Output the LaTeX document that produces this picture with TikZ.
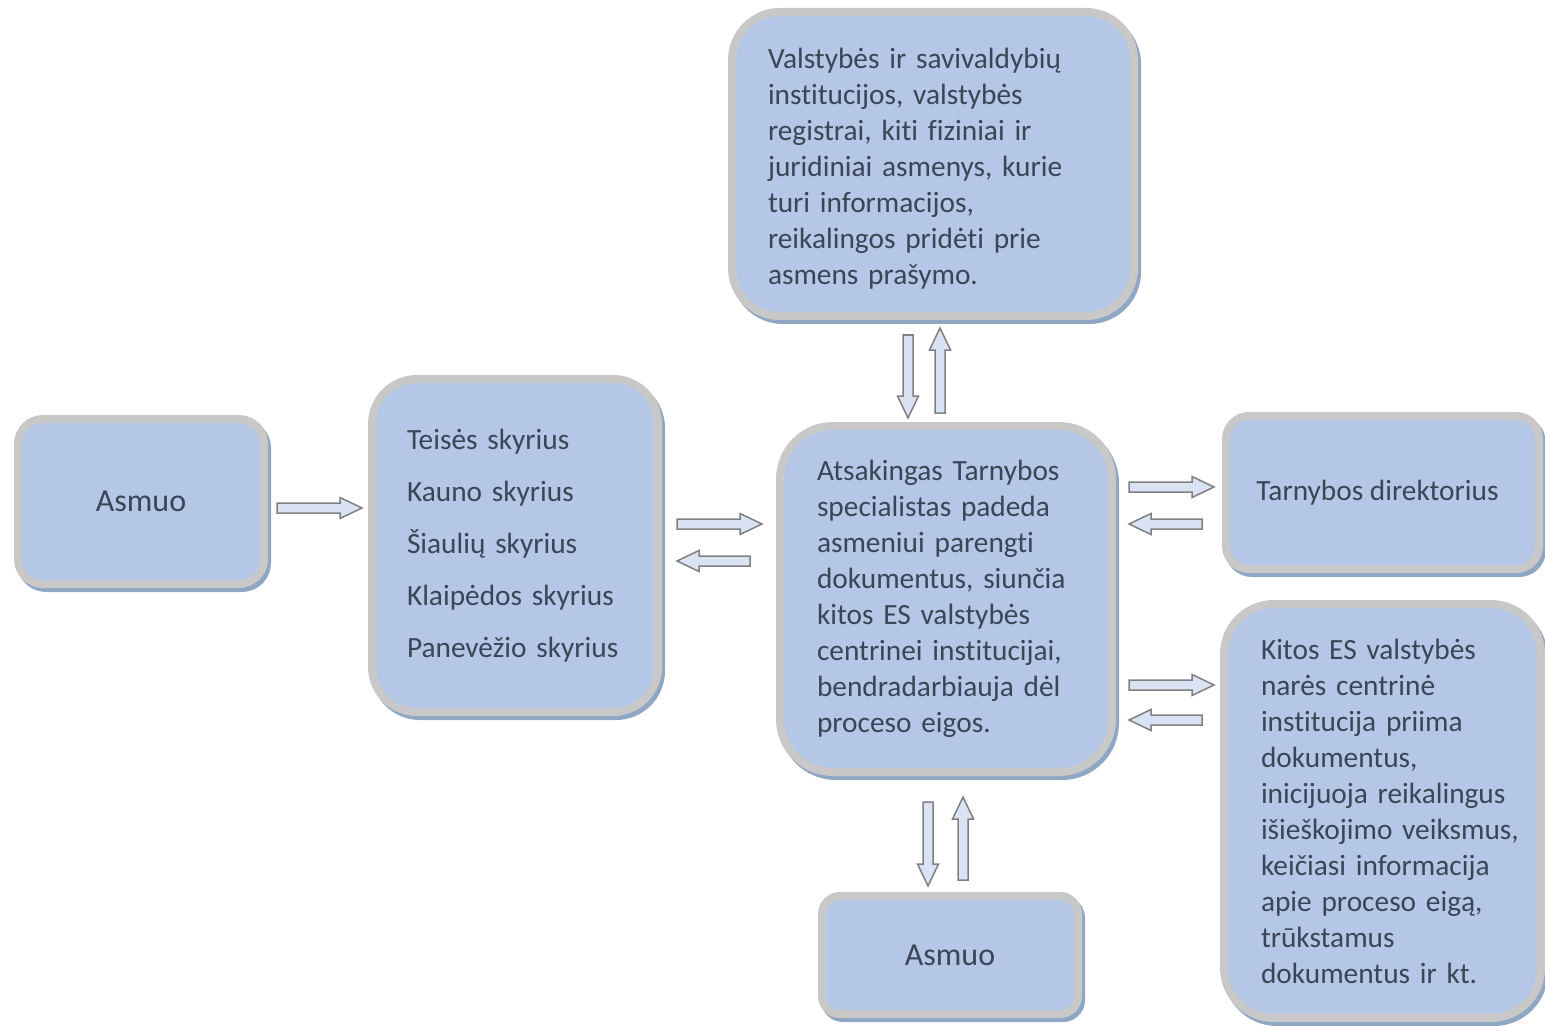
\documentclass[tikz,border=0pt]{standalone}
\usepackage{fontspec}
\setmainfont{Carlito}[Ligatures=NoCommon]
\usepackage{xcolor}
\usepackage{tikz}
\usetikzlibrary{calc}
\usetikzlibrary{positioning}

\definecolor{boxfill}{HTML}{B4C7E7}
\definecolor{boxline}{HTML}{C8C8C8}
\definecolor{boxshade}{HTML}{8FA6C4}
\definecolor{arrfill}{HTML}{DAE3F3}
\definecolor{arrline}{HTML}{808080}
\definecolor{txt}{HTML}{3A4556}

\tikzset{
	box/.style={draw=boxline,line width=4pt,fill=boxfill,rounded corners=#1,outer sep=0pt,inner sep=0pt,text=txt,
		font=\fontsize{14.67pt}{18pt}\selectfont,
		preaction={draw=boxshade,fill=boxshade,line width=4pt,transform canvas={xshift=1.5pt,yshift=-2pt}}},
	box/.default=12pt,
	bigtext/.style={font=\fontsize{16pt}{19.5pt}\selectfont},
	arrowbody/.style={draw=arrline,fill=arrfill,line width=0.75pt,line join=miter}
}

\newcommand{\blockarrow}[2]{%
	\coordinate (ba-s) at (#1);
	\coordinate (ba-e) at (#2);
	\coordinate (ba-h) at ($(ba-e)!11pt!(ba-s)$);
	\draw[arrowbody] ($(ba-s)!2.5pt!90:(ba-e)$) -- ($(ba-h)!2.5pt!-90:(ba-s)$) -- ($(ba-h)!5.25pt!-90:(ba-s)$) -- (ba-e)
		-- ($(ba-h)!5.25pt!90:(ba-s)$) -- ($(ba-h)!2.5pt!90:(ba-s)$) -- ($(ba-s)!2.5pt!-90:(ba-e)$) -- cycle;
}

\begin{document}
\begin{tikzpicture}[x=0.5pt,y=-0.5pt]
	\useasboundingbox (0,0) rectangle (1545,1026);
	\node[box=12.5pt,bigtext,minimum width=123pt,minimum height=82.5pt] (asmuoL) at (141,501.5) {Asmuo};
	\node[box=22.5pt,minimum width=143pt,minimum height=166.5pt,text width=108pt,align=left] (skyriai) at (515,545.5)
		{Teisės skyrius\\[8pt] Kauno skyrius\\[8pt] Šiaulių skyrius\\[8pt] Klaipėdos skyrius\\[8pt] Panevėžio skyrius};
	\node[box=24pt,minimum width=201pt,minimum height=152pt,text width=165pt,align=left] (instit) at (933,164)
		{\rule{0pt}{14.5pt}Valstybės ir savivaldybių\\ institucijos, valstybės\\ registrai, kiti fiziniai ir\\ juridiniai asmenys, kurie\\ turi informacijos,\\ reikalingos pridėti prie\\ asmens prašymo.};
	\node[box=26.5pt,minimum width=166pt,minimum height=173pt,text width=129pt,align=left] (spec) at (946,599)
		{Atsakingas Tarnybos\\ specialistas padeda\\ asmeniui parengti\\ dokumentus, siunčia\\ kitos ES valstybės\\ centrinei institucijai,\\ bendradarbiauja dėl\\ proceso eigos.};
	\node[box=11.5pt,minimum width=156.5pt,minimum height=76.5pt] (direkt) at (1382.5,492.5) {Tarnybos direktorius\hspace*{5pt}};
	\node[box=25pt,minimum width=158.5pt,minimum height=207pt,text width=121.5pt,align=left] (kitos) at (1382.5,811)
		{Kitos ES valstybės\\ narės centrinė\\ institucija priima\\ dokumentus,\\ \mbox{inicijuoja reikalingus}\\ \mbox{išieškojimo veiksmus,}\\ keičiasi informacija\\ apie proceso eigą,\\ trūkstamus\\ dokumentus ir kt.};
	\node[box=9pt,bigtext,minimum width=128pt,minimum height=59pt] (asmuoB) at (950,955) {Asmuo};

	\blockarrow{$(asmuoL.east)+(13,6.5)$}{$(asmuoL.east -| skyriai.west)+(-10,6.5)$}
	\blockarrow{$(skyriai.east)+(19,-21.5)$}{$(skyriai.east -| spec.west)+(-18,-21.5)$}
	\blockarrow{$(skyriai.east -| spec.west)+(-30,15.5)$}{$(skyriai.east)+(19,15.5)$}
	\blockarrow{$(instit.south)+(-25,19)$}{$(spec.north)+(-38,-8)$}
	\blockarrow{$(spec.north)+(-6,-13)$}{$(instit.south)+(7,12)$}
	\blockarrow{$(spec.east)+(17,-112)$}{$(direkt.west)+(-12,-5.5)$}
	\blockarrow{$(direkt.west)+(-24,31.5)$}{$(spec.east)+(17,-75)$}
	\blockarrow{$(spec.east)+(17,86)$}{$(kitos.west)+(-10,-126)$}
	\blockarrow{$(kitos.west)+(-22,-91)$}{$(spec.east)+(17,121)$}
	\blockarrow{$(spec.south)+(-18,30)$}{$(asmuoB.north)+(-22,-10)$}
	\blockarrow{$(asmuoB.north)+(13,-16)$}{$(spec.south)+(17,25)$}
\end{tikzpicture}
\end{document}
